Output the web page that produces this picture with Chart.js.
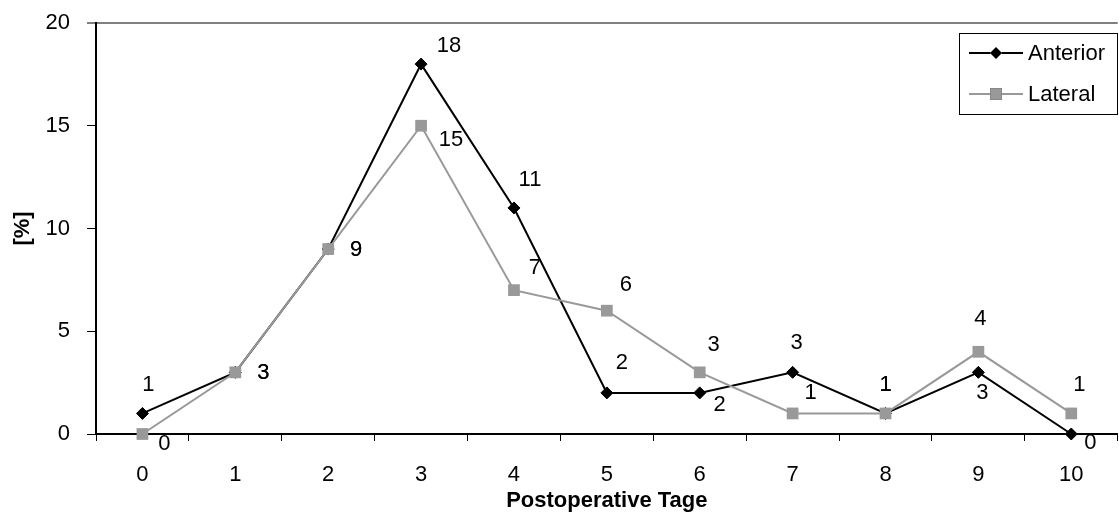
<!DOCTYPE html>
<html>
<head>
<meta charset="utf-8">
<script src="https://cdn.jsdelivr.net/npm/chart.js@4/dist/chart.umd.min.js"></script>
<style>
  html, body { margin: 0; padding: 0; background: #ffffff; overflow: hidden; width: 1119px; height: 517px; }
  #wrap { width: 1119px; height: 517px; overflow: hidden; position: relative; }
  #chart { display: block; }
</style>
</head>
<body>
<div id="wrap"><canvas id="chart" width="1126" height="517"></canvas></div>
<script>
// data
const categories = ["0", "1", "2", "3", "4", "5", "6", "7", "8", "9", "10"];
const anterior = [1, 3, 9, 18, 11, 2, 2, 3, 1, 3, 0];
const lateral = [0, 3, 9, 15, 7, 6, 3, 1, 1, 4, 1];
const yTicks = [0, 5, 10, 15, 20];

// where each value label sits relative to its point (px)
const anteriorLabelOffsets = [[6, -29], [28, 1], [28, 1], [28, -18], [16, -28], [15, -30], [20, 12], [4, -29], [0, -29], [4, 21], [19, 9]];
const lateralLabelOffsets = [[22, 10], [28, 1], [28, 1], [30, 14], [21, -22], [19, -26], [14, -27], [18, -21], [0, -29], [2, -33], [8, -29]];

const FONT = "'Liberation Sans', Arial, sans-serif";

const valueLabels = {
  id: "valueLabels",
  afterDatasetsDraw(chart) {
    const ctx = chart.ctx;
    ctx.save();
    ctx.font = "22px " + FONT;
    ctx.fillStyle = "#000000";
    ctx.textAlign = "center";
    ctx.textBaseline = "middle";
    chart.data.datasets.forEach((ds, di) => {
      const meta = chart.getDatasetMeta(di);
      const offs = ds.labelOffsets;
      meta.data.forEach((pt, i) => {
        ctx.fillText(String(ds.data[i]), pt.x + offs[i][0], pt.y + offs[i][1]);
      });
    });
    ctx.restore();
  }
};

// legend box like the original one (line + marker + name)
const boxLegend = {
  id: "boxLegend",
  afterDraw(chart) {
    const ctx = chart.ctx;
    const left = 959, top = 33, w = 159, h = 82;
    ctx.save();
    ctx.fillStyle = "#ffffff";
    ctx.fillRect(left, top, w, h);
    ctx.strokeStyle = "#000000";
    ctx.lineWidth = 1;
    ctx.strokeRect(left + 0.5, top + 0.5, w - 1, h - 1);

    const rows = [53, 94];
    chart.data.datasets.forEach((ds, di) => {
      const y = rows[di];
      ctx.strokeStyle = ds.borderColor;
      ctx.lineWidth = ds.borderWidth;
      ctx.beginPath();
      ctx.moveTo(969, y);
      ctx.lineTo(1023, y);
      ctx.stroke();
      Chart.helpers.drawPoint(ctx, {
        pointStyle: ds.pointStyle,
        radius: ds.pointRadius,
        borderWidth: 0,
        rotation: 0
      }, 996, y);
      ctx.fillStyle = ds.pointBackgroundColor;
      ctx.fill();
      ctx.fillStyle = "#000000";
      ctx.font = "22px " + FONT;
      ctx.textAlign = "left";
      ctx.textBaseline = "middle";
      ctx.fillText(ds.label, 1028, y + 1);
    });
    ctx.restore();
  }
};

function createLineChart() {
  const chartOptions = {
    type: "line",
    data: {
      labels: categories,
      datasets: [
        {
          label: "Anterior",
          data: anterior,
          borderColor: "#000000",
          borderWidth: 2,
          pointStyle: "rectRot",
          pointRadius: 6,
          pointBackgroundColor: "#000000",
          pointBorderColor: "#000000",
          pointBorderWidth: 1,
          tension: 0,
          clip: false,
          order: 1,
          labelOffsets: anteriorLabelOffsets
        },
        {
          label: "Lateral",
          data: lateral,
          borderColor: "#999999",
          borderWidth: 2,
          pointStyle: "rect",
          pointRadius: 8.3,
          pointBackgroundColor: "#999999",
          pointBorderColor: "#999999",
          pointBorderWidth: 0,
          tension: 0,
          clip: false,
          order: 0,
          labelOffsets: lateralLabelOffsets
        }
      ]
    },
    options: {
      responsive: false,
      animation: false,
      layout: { padding: { top: 23, right: 1.5, left: 0, bottom: 0 } },
      plugins: {
        legend: { display: false },
        tooltip: { enabled: false }
      },
      scales: {
        x: {
          type: "category",
          offset: true,
          afterFit: (scale) => {
            scale.height = 83;
            scale.paddingLeft = 0;
            scale.paddingRight = 0;
          },
          border: { display: true, color: "#000000", width: 2 },
          grid: {
            offset: true,
            drawOnChartArea: false,
            drawTicks: true,
            tickLength: 7,
            tickColor: "#000000",
            tickWidth: 1
          },
          ticks: {
            color: "#000000",
            font: { family: FONT, size: 22 },
            padding: 21,
            maxRotation: 0,
            autoSkip: false
          },
          title: {
            display: true,
            text: "Postoperative Tage",
            color: "#000000",
            font: { family: FONT, size: 22, weight: "bold" },
            padding: { top: 0, bottom: 3 }
          }
        },
        y: {
          min: 0,
          max: 20,
          afterFit: (scale) => {
            scale.width = 96;
            scale.paddingTop = 0;
            scale.paddingBottom = 0;
          },
          afterBuildTicks: (scale) => { scale.ticks = yTicks.map(v => ({ value: v })); },
          border: { display: true, color: "#000000", width: 2 },
          grid: {
            drawOnChartArea: true,
            color: (c) => (c.tick && c.tick.value === 20 ? "#808080" : "rgba(0,0,0,0)"),
            lineWidth: (c) => (c.tick && c.tick.value === 20 ? 2 : 1),
            tickLength: 9,
            tickColor: "#000000",
            tickWidth: 1
          },
          ticks: {
            color: "#000000",
            font: { family: FONT, size: 22 },
            padding: 17
          },
          title: {
            display: true,
            text: "[%]",
            color: "#000000",
            font: { family: FONT, size: 22, weight: "bold" },
            padding: { top: 10, bottom: 0 }
          }
        }
      }
    },
    plugins: [valueLabels, boxLegend]
  };

  return new Chart(document.getElementById("chart"), chartOptions);
}

const lineChart = createLineChart();
</script>
</body>
</html>
